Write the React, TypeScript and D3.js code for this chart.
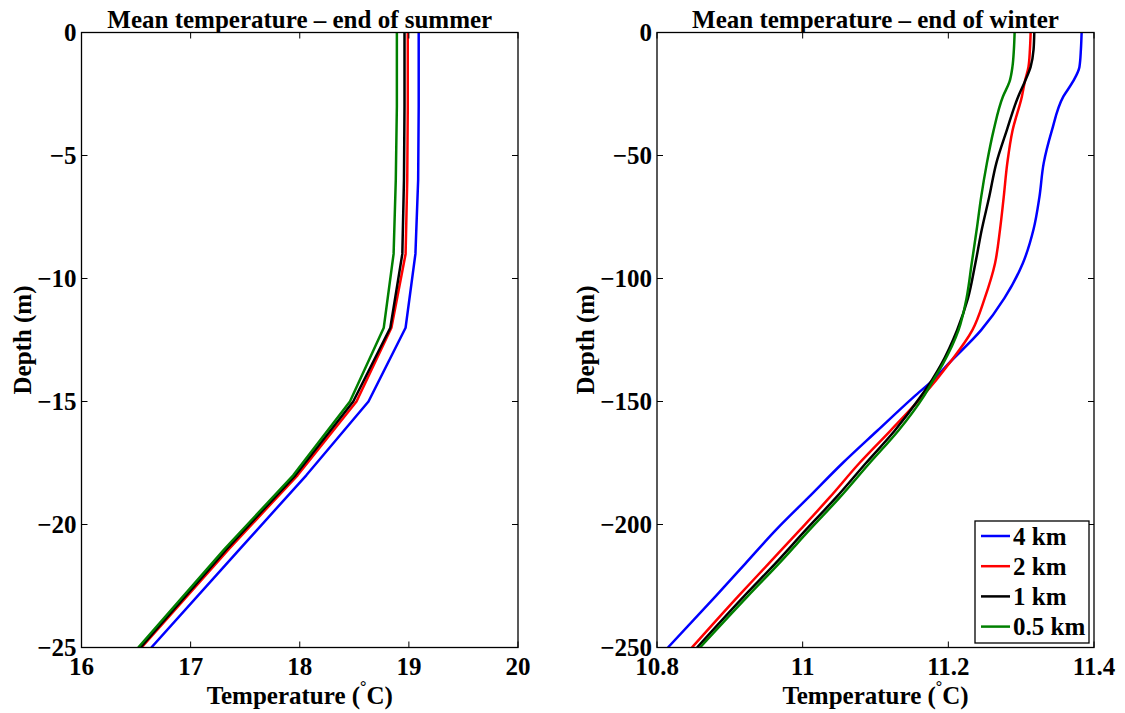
import React from "react";
import * as d3 from "d3";

// ---- Data ----
const seriesNames = ["4 km", "2 km", "1 km", "0.5 km"];
const seriesColors = ["#0000ff", "#ff0000", "#000000", "#008000"];

// End of summer (depth m, temperature °C)
const summerDepth = [0, -3, -6, -9, -12, -15, -18, -21, -25];
const summer4km = [19.09, 19.09, 19.085, 19.06, 18.97, 18.63, 18.06, 17.45, 16.64];
const summer2km = [18.99, 18.99, 18.985, 18.97, 18.84, 18.52, 17.98, 17.35, 16.55];
const summer1km = [18.96, 18.96, 18.955, 18.94, 18.83, 18.49, 17.96, 17.33, 16.54];
const summer05km = [18.89, 18.89, 18.88, 18.86, 18.77, 18.46, 17.94, 17.31, 16.52];

// End of winter
const winterDepth = [0, -7, -14, -20, -26, -40, -53, -67, -80, -94, -108, -121, -135, -141, -148, -162, -175, -189, -202, -216, -229, -250];
const winter4km = [11.383, 11.382, 11.380, 11.371, 11.358, 11.342, 11.331, 11.325, 11.317, 11.302, 11.277, 11.245, 11.199, 11.180, 11.153, 11.102, 11.055, 11.008, 10.964, 10.921, 10.881, 10.815];
const winter2km = [11.313, 11.312, 11.310, 11.305, 11.301, 11.288, 11.281, 11.276, 11.271, 11.264, 11.250, 11.233, 11.200, 11.184, 11.164, 11.120, 11.078, 11.037, 10.997, 10.953, 10.912, 10.848];
const winter1km = [11.318, 11.317, 11.313, 11.305, 11.296, 11.280, 11.266, 11.256, 11.246, 11.237, 11.227, 11.212, 11.190, 11.178, 11.162, 11.126, 11.087, 11.046, 11.005, 10.962, 10.920, 10.855];
const winter05km = [11.291, 11.290, 11.288, 11.284, 11.275, 11.262, 11.253, 11.245, 11.239, 11.232, 11.225, 11.214, 11.192, 11.180, 11.166, 11.131, 11.092, 11.051, 11.010, 10.967, 10.925, 10.859];

const summerXTicks = [16, 17, 18, 19, 20];
const summerYTicks = [0, -5, -10, -15, -20, -25];
const winterXTicks = [10.8, 11, 11.2, 11.4];
const winterYTicks = [0, -50, -100, -150, -200, -250];

const FONT = "'Liberation Serif', 'Times New Roman', serif";
const FS = 25;
const fmt = (v: number) => (v < 0 ? "\u2212" + String(Math.abs(v)) : String(v));

type PanelProps = {
  x0: number; x1: number; y0: number; y1: number;
  xDomain: [number, number]; yDomain: [number, number];
  xTicks: number[]; yTicks: number[];
  depth: number[]; series: number[][];
  title: string; yLabelX: number; smooth: boolean; legend: boolean;
};

function Panel(p: PanelProps) {
  const xs = d3.scaleLinear().domain(p.xDomain).range([p.x0, p.x1]);
  const ys = d3.scaleLinear().domain(p.yDomain).range([p.y1, p.y0]);
  const line = d3
    .line<[number, number]>()
    .x((d) => xs(d[0]))
    .y((d) => ys(d[1]))
    .curve(p.smooth ? d3.curveMonotoneY : d3.curveLinear);
  const tl = 6;
  const cx = (p.x0 + p.x1) / 2;
  const cy = (p.y0 + p.y1) / 2;
  return (
    <g>
      <defs>
        <clipPath id={"clip" + p.x0}>
          <rect x={p.x0} y={p.y0} width={p.x1 - p.x0} height={p.y1 - p.y0} />
        </clipPath>
      </defs>
      <g clipPath={`url(#clip${p.x0})`}>
        {p.series.map((vals, i) => (
          <path
            key={i}
            d={line(vals.map((v, j) => [v, p.depth[j]] as [number, number]).reverse()) || ""}
            fill="none"
            stroke={seriesColors[i]}
            strokeWidth={2.5}
            strokeLinejoin="round"
          />
        ))}
      </g>
      <rect x={p.x0} y={p.y0} width={p.x1 - p.x0} height={p.y1 - p.y0} fill="none" stroke="#000" strokeWidth={1.3} />
      {p.xTicks.map((t) => (
        <g key={"x" + t}>
          <line x1={xs(t)} x2={xs(t)} y1={p.y1} y2={p.y1 - tl} stroke="#000" strokeWidth={1} />
          <line x1={xs(t)} x2={xs(t)} y1={p.y0} y2={p.y0 + tl} stroke="#000" strokeWidth={1} />
          <text x={xs(t)} y={p.y1 + 27} textAnchor="middle" fontFamily={FONT} fontWeight="bold" fontSize={FS}>
            {fmt(t)}
          </text>
        </g>
      ))}
      {p.yTicks.map((t) => (
        <g key={"y" + t}>
          <line x1={p.x0} x2={p.x0 + tl} y1={ys(t)} y2={ys(t)} stroke="#000" strokeWidth={1} />
          <line x1={p.x1} x2={p.x1 - tl} y1={ys(t)} y2={ys(t)} stroke="#000" strokeWidth={1} />
          <text x={p.x0 - 5} y={ys(t) + 8.5} textAnchor="end" fontFamily={FONT} fontWeight="bold" fontSize={FS}>
            {fmt(t)}
          </text>
        </g>
      ))}
      <text x={cx} y={p.y0 - 5} textAnchor="middle" fontFamily={FONT} fontWeight="bold" fontSize={FS}>
        {p.title}
      </text>
      <text x={cx} y={p.y1 + 56} textAnchor="middle" fontFamily={FONT} fontWeight="bold" fontSize={FS}>
        Temperature (<tspan fontSize={16} dy={-12}>{"\u00b0"}</tspan>
        <tspan dy={12}>C)</tspan>
      </text>
      <text
        transform={`translate(${p.yLabelX},${cy}) rotate(-90)`}
        textAnchor="middle"
        fontFamily={FONT}
        fontWeight="bold"
        fontSize={FS}
      >
        Depth (m)
      </text>
      {p.legend && (
        <g>
          <rect x={975} y={521} width={114} height={122} fill="#fff" stroke="#000" strokeWidth={1.3} />
          {seriesNames.map((n, i) => {
            const yy = 536 + i * 30.2;
            return (
              <g key={n}>
                <line x1={981} x2={1010} y1={yy} y2={yy} stroke={seriesColors[i]} strokeWidth={2.5} />
                <text x={1013} y={yy + 8.5} fontFamily={FONT} fontWeight="bold" fontSize={FS}>
                  {n}
                </text>
              </g>
            );
          })}
        </g>
      )}
    </g>
  );
}

export default function App() {
  return (
    <svg
      width={1125}
      height={713}
      style={{ position: "fixed", left: 0, top: 0, background: "#fff" }}
    >
      <rect width={1125} height={713} fill="#fff" />
      <Panel
        x0={81.5} x1={518} y0={32.5} y1={647.5}
        xDomain={[16, 20]} yDomain={[-25, 0]}
        xTicks={summerXTicks} yTicks={summerYTicks}
        depth={summerDepth}
        series={[summer4km, summer2km, summer1km, summer05km]}
        title={"Mean temperature \u2013 end of summer"}
        yLabelX={31} smooth={false} legend={false}
      />
      <Panel
        x0={657} x1={1094} y0={32.5} y1={647.5}
        xDomain={[10.8, 11.4]} yDomain={[-250, 0]}
        xTicks={winterXTicks} yTicks={winterYTicks}
        depth={winterDepth}
        series={[winter4km, winter2km, winter1km, winter05km]}
        title={"Mean temperature \u2013 end of winter"}
        yLabelX={594} smooth={true} legend={true}
      />
    </svg>
  );
}
